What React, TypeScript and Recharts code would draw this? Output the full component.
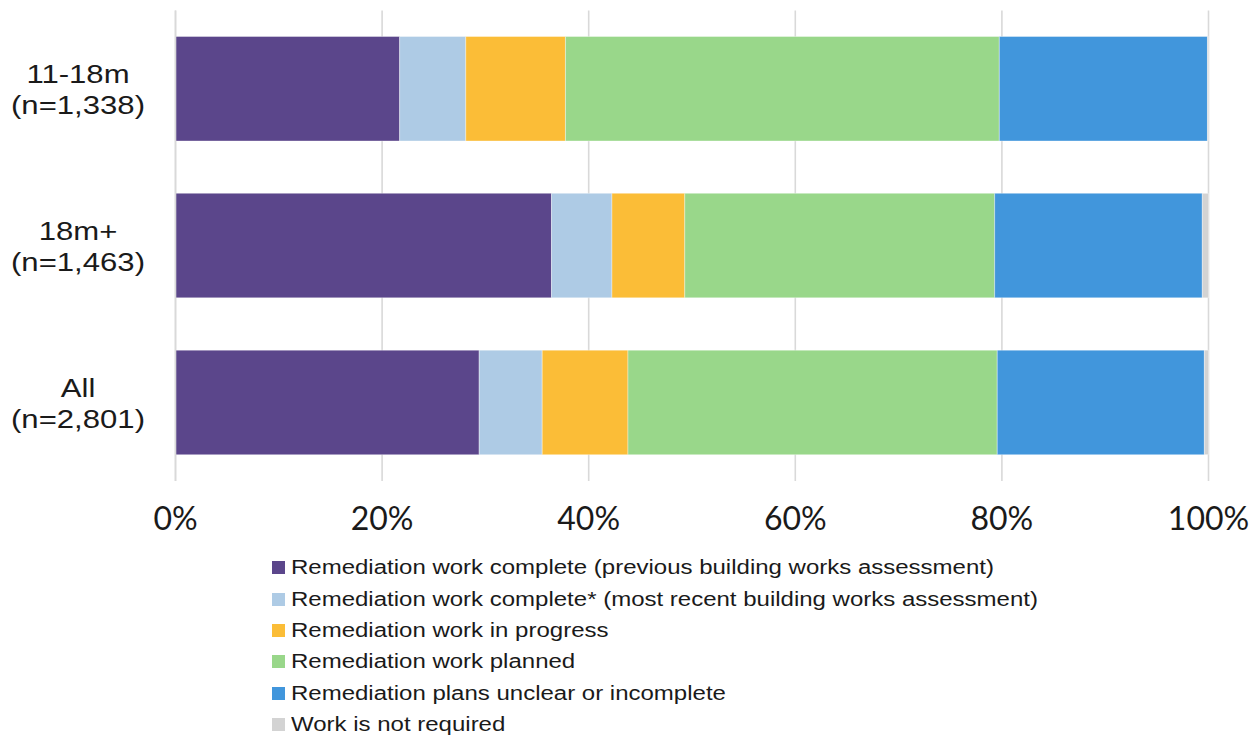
import { Bar, BarChart, CartesianGrid, XAxis, YAxis } from 'recharts';

const CATEGORIES = ['11-18m|(n=1,338)', '18m+|(n=1,463)', 'All|(n=2,801)'];

const SERIES = [
  'Remediation work complete (previous building works assessment)',
  'Remediation work complete* (most recent building works assessment)',
  'Remediation work in progress',
  'Remediation work planned',
  'Remediation plans unclear or incomplete',
  'Work is not required',
];

const COLORS = ['#5b468b', '#aecbe5', '#fbbd37', '#99d78a', '#4196dc', '#d3d3d3'];

// percentages per category, in series order
const completePrev = [21.7, 36.4, 29.4];
const completeRecent = [6.4, 5.85, 6.1];
const inProgress = [9.65, 7.05, 8.3];
const planned = [42.0, 30.0, 35.75];
const unclear = [20.15, 20.1, 20.05];
const notRequired = [0.1, 0.6, 0.4];

const X_TICKS = [0, 20, 40, 60, 80, 100];

const VALUES = [completePrev, completeRecent, inProgress, planned, unclear, notRequired];

const data = CATEGORIES.map((c, i) => {
  const row: Record<string, string | number> = { name: c };
  VALUES.forEach((v, s) => {
    row[`s${s}`] = v[i];
  });
  return row;
});

// the source text is drawn a bit wider than Arial, so stretch it horizontally
function YTick({ y, payload }: any) {
  const [a, b] = String(payload.value).split('|');
  return (
    <g transform={`translate(78 ${y}) scale(1.22 1)`}>
      <text
        x={0}
        y={0}
        textAnchor="middle"
        fontFamily="'Liberation Sans', Arial, sans-serif"
        fontSize={25.5}
        fill="#1a1a1a"
      >
        <tspan x={0} dy={-5.5}>{a}</tspan>
        <tspan x={0} dy={31}>{b}</tspan>
      </text>
    </g>
  );
}

function XTick({ x, payload }: any) {
  return (
    <text x={x} y={530} textAnchor="middle" fontFamily="Lato, sans-serif" fontSize={32} fill="#1a1a1a">
      {`${payload.value}%`}
    </text>
  );
}

function LegendBox() {
  return (
    <div
      style={{
        position: 'absolute',
        left: 272,
        top: 552,
        fontFamily: "'Liberation Sans', Arial, sans-serif",
        fontSize: 20,
        color: '#1a1a1a',
      }}
    >
      {SERIES.map((name, i) => (
        <div key={name} style={{ display: 'flex', alignItems: 'center', height: 31.4, whiteSpace: 'nowrap' }}>
          <span style={{ width: 13, height: 13, background: COLORS[i], display: 'inline-block', marginRight: 6 }} />
          <span style={{ display: 'inline-block', transform: 'scaleX(1.2)', transformOrigin: 'left center' }}>
            {name}
          </span>
        </div>
      ))}
    </div>
  );
}

export default function App() {
  return (
    <div
      style={{ position: 'absolute', left: 0, top: 0, width: 1249, height: 737, overflow: 'hidden', background: '#fff' }}
    >
      <BarChart
        width={1249}
        height={737}
        data={data}
        layout="vertical"
        margin={{ top: 10.5, right: 40.5, bottom: 206, left: 0 }}
        barSize={104.5}
      >
        <CartesianGrid horizontal={false} stroke="#d9d9d9" strokeWidth={1.6} />
        <XAxis
          type="number"
          domain={[0, 100]}
          ticks={X_TICKS}
          axisLine={false}
          tickLine={false}
          tick={<XTick />}
          height={50}
        />
        <YAxis
          type="category"
          dataKey="name"
          width={175.5}
          axisLine={{ stroke: '#d9d9d9', strokeWidth: 1.6 }}
          tickLine={false}
          tick={<YTick />}
        />
        {SERIES.map((name, i) => (
          <Bar
            key={name}
            dataKey={`s${i}`}
            name={name}
            stackId="a"
            fill={COLORS[i]}
            stroke="#ffffff"
            strokeOpacity={0.45}
            strokeWidth={0.8}
            isAnimationActive={false}
          />
        ))}
      </BarChart>
      <LegendBox />
    </div>
  );
}
